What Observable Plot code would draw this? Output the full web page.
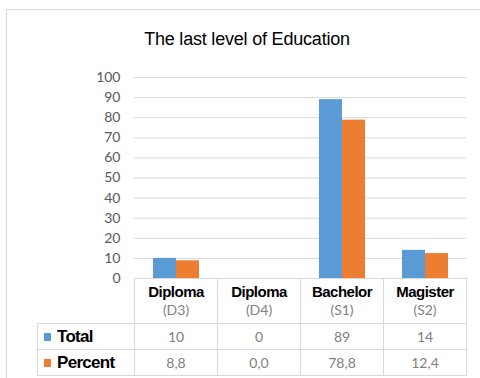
<!DOCTYPE html>
<html><head><meta charset="utf-8">
<script src="https://cdn.jsdelivr.net/npm/d3@7"></script>
<script src="https://cdn.jsdelivr.net/npm/@observablehq/plot@0.6"></script>
<style>
body{margin:0;background:#fff;}
#wrap{position:relative;width:480px;height:378px;overflow:hidden;font-family:"Liberation Sans",Arial,sans-serif;}
#frame{position:absolute;left:6px;top:9px;width:480px;height:380px;border-left:1px solid #d9d9d9;border-top:1px solid #d9d9d9;box-sizing:border-box;}
#title{position:absolute;left:0;width:494px;top:30px;line-height:18px;text-align:center;font-size:18px;color:#000;letter-spacing:-0.2px;}
#chart{position:absolute;left:0;top:0;}
#tbl{position:absolute;left:37px;top:278px;border-collapse:collapse;table-layout:fixed;}
#tbl td{border:1px solid #d9d9d9;padding:0;text-align:center;vertical-align:middle;}
#tbl td.corner{border:none;}
#tbl tr.head td{height:44px;vertical-align:top;}
#tbl tr.row td{height:25px;}
.nm{font-weight:bold;font-size:15px;line-height:19px;padding-top:3px;color:#000;letter-spacing:-0.5px;}
.cd{font-family:Lato,sans-serif;font-size:14px;line-height:18px;color:#7f7f7f;}
.val{font-family:Lato,sans-serif;font-size:14px;color:#7f7f7f;}
#tbl td.lab{text-align:left;padding-left:6px;font-weight:bold;font-size:17px;color:#000;letter-spacing:-0.7px;white-space:nowrap;}
.sw{display:inline-block;width:7px;height:8px;margin-right:6px;vertical-align:1px;}
</style></head>
<body>
<div id="wrap">
  <div id="frame"></div>
  <div id="chart"></div>
  <div id="title"></div>
  <table id="tbl"></table>
</div>
<script>
const titleText = "The last level of Education";
const codes = ["D3", "D4", "S1", "S2"];
const names = ["Diploma", "Diploma", "Bachelor", "Magister"];
const total = [10, 0, 89, 14];
const percent = [8.8, 0.0, 78.8, 12.4];
const series = ["Total", "Percent"];
const colors = ["#5B9BD5", "#ED7D31"];
const yTicks = [0, 10, 20, 30, 40, 50, 60, 70, 80, 90, 100];

const seriesValues = [total, percent];
const data = codes.flatMap((c, i) => series.map((s, j) => ({code: c, series: s, value: seriesValues[j][i]})));

document.getElementById("title").textContent = titleText;

const chart = Plot.plot({
  width: 480, height: 378,
  marginTop: 77, marginBottom: 100, marginLeft: 134, marginRight: 14,
  style: {fontFamily: "Lato, sans-serif", fontSize: "14px", color: "#595959", background: "transparent"},
  fx: {domain: codes, padding: 0, axis: null},
  x: {domain: series, paddingInner: 0, paddingOuter: 0.8, axis: null},
  y: {domain: [0, 100], axis: null},
  color: {domain: series, range: colors},
  marks: [
    Plot.gridY(yTicks, {stroke: "#d9d9d9", strokeOpacity: 1, strokeWidth: 1}),
    Plot.axisY(yTicks, {tickSize: 0, tickPadding: 14, fontSize: 14, label: null}),
    Plot.barY(data, {fx: "code", x: "series", y: "value", fill: "series"})
  ]
});
document.getElementById("chart").appendChild(chart);

// data table
const fmt = v => v.toFixed(1).replace(".", ",");
const tbl = document.getElementById("tbl");
const cols = document.createElement("colgroup");
[97, 83, 83, 83, 83].forEach(w => { const c = document.createElement("col"); c.style.width = w + "px"; cols.appendChild(c); });
tbl.appendChild(cols);
const head = tbl.insertRow(); head.className = "head";
head.insertCell().className = "corner";
codes.forEach((c, i) => {
  const td = head.insertCell();
  td.innerHTML = `<div class="nm">${names[i]}</div><div class="cd">(${c})</div>`;
});
const rowsVals = [total.map(v => String(v)), percent.map(fmt)];
series.forEach((s, j) => {
  const tr = tbl.insertRow(); tr.className = "row";
  const lab = tr.insertCell(); lab.className = "lab";
  lab.innerHTML = `<span class="sw" style="background:${colors[j]}"></span>${s}`;
  rowsVals[j].forEach(v => { const td = tr.insertCell(); td.className = "val"; td.textContent = v; });
});
</script>
</body></html>
